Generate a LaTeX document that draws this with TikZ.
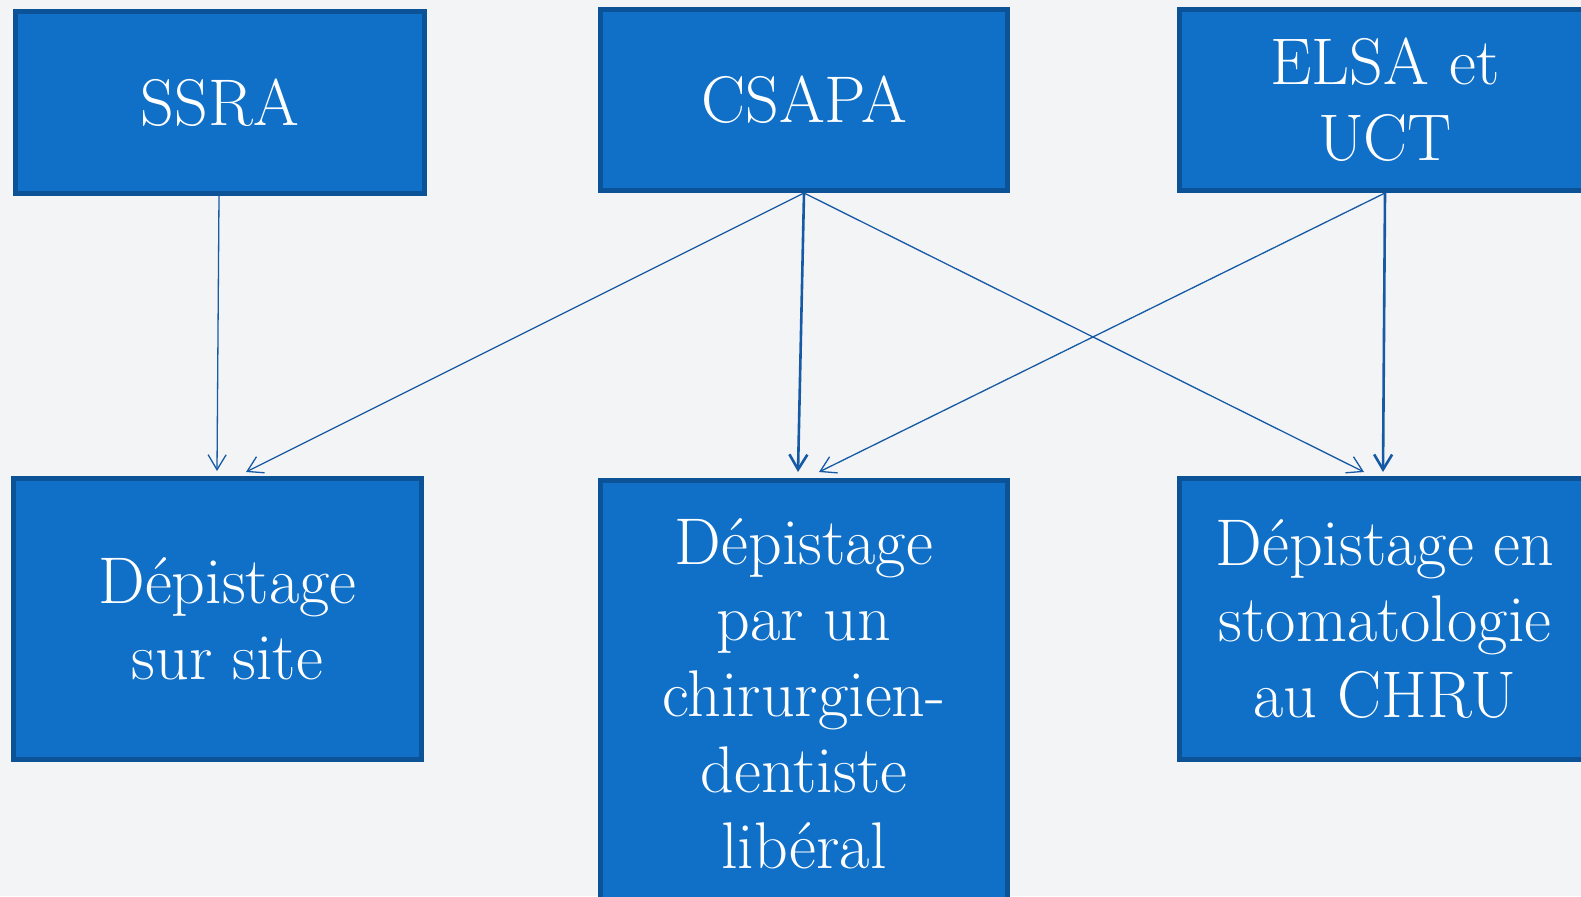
\documentclass[tikz,border=0pt]{standalone}
\usetikzlibrary{arrows.meta}
\definecolor{bgc}{RGB}{243,244,246}
\definecolor{boxfill}{RGB}{16,112,200}
\definecolor{boxline}{RGB}{11,83,150}
\definecolor{arrc}{RGB}{22,90,165}
\begin{document}
\begin{tikzpicture}[x=1bp,y=-1bp,
  box/.style={draw=boxline, line width=5bp, fill=boxfill, text=white, align=center,
    inner sep=0pt, font=\fontsize{66bp}{76bp}\selectfont},
  conn/.style={draw=arrc, line width=1.3bp, -{Straight Barb[length=15bp,width=18bp,line width=1.3bp]}},
  thickconn/.style={draw=arrc, line width=2.6bp, -{Straight Barb[length=15bp,width=18bp,line width=2.6bp]}}]
\fill[bgc] (0,0) rectangle (1581,896);
\useasboundingbox (0,0) rectangle (1581,896);
\begin{scope}
\clip (0,0) rectangle (1581,896);
\node[box, minimum width=409bp, minimum height=182bp] (ssra) at (220,102.5) {SSRA};
\node[box, minimum width=407bp, minimum height=181bp] (csapa) at (804,100) {CSAPA};
\node[box, minimum width=411bp, minimum height=181bp] (elsa) at (1385,100) {ELSA et\\UCT};
\node[box, minimum width=408bp, minimum height=281bp] (dep1) at (217.5,619) {\hspace*{20bp}Dépistage\\\hspace*{20bp}sur site};
\node[box, minimum width=407bp, minimum height=427bp] (dep2) at (804,694) {Dépistage\\par un\\chirurgien-\\dentiste\\libéral};
\node[box, minimum width=411bp, minimum height=281bp] (dep3) at (1385,619) {Dépistage en\\stomatologie\\au CHRU};
\end{scope}
\coordinate (t1a) at (217,471);
\coordinate (t1b) at (246,472);
\coordinate (t2a) at (798,472);
\coordinate (t2b) at (819,472);
\coordinate (t3a) at (1364,472);
\coordinate (t3b) at (1383,472);
\draw[conn] (ssra.south) ++(-1,0) -- (t1a);
\draw[conn] (csapa.south) -- (t1b);
\draw[thickconn] (csapa.south) -- (t2a);
\draw[conn] (csapa.south) -- (t3a);
\draw[conn] (elsa.south) -- (t2b);
\draw[thickconn] (elsa.south) -- (t3b);
\end{tikzpicture}
\end{document}
